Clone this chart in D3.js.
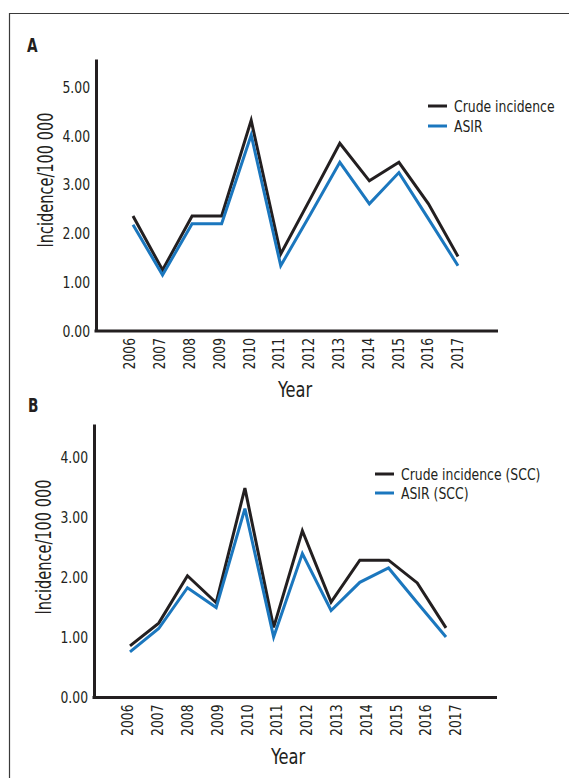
<!DOCTYPE html>
<html>
<head>
<meta charset="utf-8">
<script src="https://cdn.jsdelivr.net/npm/d3@7"></script>
<style>
  body { margin: 0; background: #fff; }
  svg { display: block; }
  text { font-family: "DejaVu Sans Condensed", "Liberation Sans Narrow", "Roboto", sans-serif; fill: #231f20; }
</style>
</head>
<body>
<svg id="chart" width="569" height="778"></svg>
<script>
// data
var years = [2006, 2007, 2008, 2009, 2010, 2011, 2012, 2013, 2014, 2015, 2016, 2017];

var crudeA = [2.36, 1.25, 2.36, 2.36, 4.32, 1.58, 2.71, 3.85, 3.08, 3.46, 2.61, 1.53];
var asirA  = [2.18, 1.15, 2.20, 2.20, 4.02, 1.34, 2.39, 3.46, 2.61, 3.25, 2.30, 1.34];

var crudeB = [0.86, 1.24, 2.03, 1.58, 3.49, 1.17, 2.78, 1.59, 2.29, 2.29, 1.91, 1.16];
var asirB  = [0.76, 1.15, 1.83, 1.50, 3.15, 1.01, 2.40, 1.45, 1.92, 2.16, 1.58, 1.01];

var ticksA = [0, 1, 2, 3, 4, 5];
var ticksB = [0, 1, 2, 3, 4];

var namesA = ["Crude incidence", "ASIR"];
var namesB = ["Crude incidence (SCC)", "ASIR (SCC)"];

var black = "#231f20", blue = "#1b77be";

var svg = d3.select("#chart");

// squeeze text sideways, the original uses a condensed face
function narrow(sel, k) {
    sel.each(function() {
        var w = this.getComputedTextLength();
        d3.select(this).attr("textLength", w * k).attr("lengthAdjust", "spacingAndGlyphs");
    });
}

// frame round the figure
svg.append("path")
    .attr("d", "M9.5,778V13.5H569")
    .attr("fill", "none")
    .attr("stroke", "#3a3a3a")
    .attr("stroke-width", 1.2);

function drawPanel(p) {
    var g = svg.append("g");

    var y = d3.scaleLinear().domain([0, p.yMax]).range([p.bottom, p.top]);
    var xTick = d3.scalePoint().domain(years).range(p.tickRange);
    var xLine = d3.scalePoint().domain(years).range(p.lineRange);

    g.append("text")
        .attr("x", p.letterX).attr("y", p.letterY)
        .style("font-size", "19px").style("font-weight", "bold")
        .text(p.letter)
        .call(narrow, 0.8);

    // y axis
    var ya = g.append("g")
        .attr("transform", "translate(" + p.left + ",0)")
        .call(d3.axisLeft(y).tickValues(p.ticks).tickFormat(d3.format(".2f")).tickSize(0).tickSizeOuter(0).tickPadding(6));
    ya.select(".domain").attr("stroke", black).attr("stroke-width", 3);
    ya.selectAll("text").style("font-size", "16px").attr("fill", black).call(narrow, 0.86);

    // x axis
    var xa = g.append("g")
        .attr("transform", "translate(0," + p.bottom + ")")
        .call(d3.axisBottom(xTick).tickSize(0));
    xa.select(".domain").remove();
    xa.selectAll("text")
        .attr("transform", "rotate(-90)")
        .attr("text-anchor", "end")
        .attr("x", -7).attr("y", 0).attr("dy", "0.36em")
        .style("font-size", "16px").attr("fill", black)
        .call(narrow, 0.86);
    g.append("line")
        .attr("x1", p.left - 1.5).attr("x2", p.right)
        .attr("y1", p.bottom).attr("y2", p.bottom)
        .attr("stroke", black).attr("stroke-width", 3);

    g.append("text")
        .attr("transform", "translate(" + p.yLabelX + "," + p.yLabelY + ") rotate(-90)")
        .attr("text-anchor", "middle")
        .style("font-size", "21px")
        .text("Incidence/100 000")
        .call(narrow, 0.77);

    g.append("text")
        .attr("x", p.yearX).attr("y", p.yearY)
        .attr("text-anchor", "middle")
        .style("font-size", "21px")
        .text("Year")
        .call(narrow, 0.86);

    var line = d3.line()
        .x(function(d, i) { return xLine(years[i]); })
        .y(function(d) { return y(d); });

    [[p.crude, black], [p.asir, blue]].forEach(function(s) {
        g.append("path")
            .datum(s[0])
            .attr("fill", "none")
            .attr("stroke", s[1])
            .attr("stroke-width", 3)
            .attr("stroke-linejoin", "miter")
            .attr("d", line);
    });

    // legend
    var lg = g.append("g").attr("transform", "translate(" + p.legX + "," + p.legY + ")");
    p.names.forEach(function(n, i) {
        lg.append("line")
            .attr("x1", 0).attr("x2", 19)
            .attr("y1", i * p.legStep).attr("y2", i * p.legStep)
            .attr("stroke", i === 0 ? black : blue).attr("stroke-width", 3);
        lg.append("text")
            .attr("x", 26).attr("y", i * p.legStep).attr("dy", "0.37em")
            .style("font-size", "15px")
            .text(n)
            .call(narrow, 0.92);
    });
}

drawPanel({
    letter: "A", letterX: 27, letterY: 52,
    crude: crudeA, asir: asirA, ticks: ticksA, names: namesA,
    yMax: 5.58, top: 59, bottom: 331, left: 96, right: 498,
    tickRange: [129, 457], lineRange: [133, 458],
    yLabelX: 53, yLabelY: 180, yearX: 295, yearY: 397,
    legX: 428, legY: 106, legStep: 20
});

drawPanel({
    letter: "B", letterX: 28, letterY: 412,
    crude: crudeB, asir: asirB, ticks: ticksB, names: namesB,
    yMax: 4.56, top: 424, bottom: 697.5, left: 94, right: 497,
    tickRange: [127, 455], lineRange: [130, 446],
    yLabelX: 51, yLabelY: 547, yearX: 288, yearY: 764,
    legX: 375, legY: 474, legStep: 19
});
</script>
</body>
</html>
